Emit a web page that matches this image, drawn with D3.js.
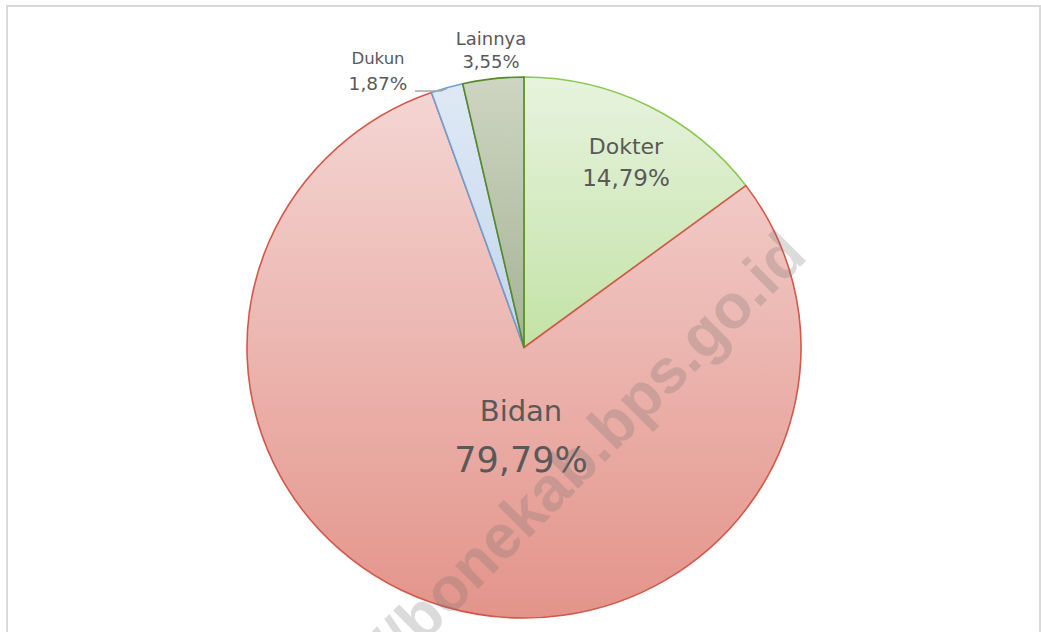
<!DOCTYPE html>
<html><head><meta charset="utf-8">
<script src="https://cdn.jsdelivr.net/npm/d3@7"></script>
<style>html,body{margin:0;padding:0;background:#fff;overflow:hidden}</style>
</head><body>
<svg id="chart" width="1041" height="632"></svg>
<script>
// Data
const categories = ["Dokter", "Bidan", "Dukun", "Lainnya"];
const values = [14.79, 79.79, 1.87, 3.55];
const valueLabels = ["14,79%", "79,79%", "1,87%", "3,55%"];

// Styling
const gradTop  = {Dokter:"#e7f3de", Bidan:"#f4d5d3", Dukun:"#dfe9f5", Lainnya:"#ced5c2"};
const gradBot  = {Dokter:"#c3e2a6", Bidan:"#e3948a", Dukun:"#c2d5ec", Lainnya:"#a5b394"};
const strokes  = {Dokter:"#8cc751", Bidan:"#d4584a", Dukun:"#6d9fd4", Lainnya:"#558a26"};
// label layout
const labelLayout = {
  Dokter:  {x:626, y:154, gap:32, s1:22, s2:23},
  Bidan:   {x:521, y:421, gap:51, s1:29, s2:35},
  Dukun:   {x:378, y:64,  gap:26, s1:16.5, s2:18.5},
  Lainnya: {x:491, y:45,  gap:23, s1:18, s2:18}
};

const W = 1041, H = 632;
const cx = 524, cy = 347.5, rx = 277, ry = 270.5;
const svg = d3.select("#chart");

svg.append("rect").attr("x", 7).attr("y", 6).attr("width", 1033).attr("height", 700)
  .attr("fill", "#fff").attr("stroke", "#d9d9d9").attr("stroke-width", 2);

const defs = svg.append("defs");
categories.forEach((c, i) => {
  const g = defs.append("linearGradient").attr("id", "g" + i)
    .attr("x1", 0).attr("y1", 0).attr("x2", 0).attr("y2", 1);
  g.append("stop").attr("offset", "0%").attr("stop-color", gradTop[c]);
  g.append("stop").attr("offset", "100%").attr("stop-color", gradBot[c]);
});

const pie = d3.pie().sort(null).value(d => d.v);
const data = categories.map((c, i) => ({c, v: values[i], lab: valueLabels[i], i}));
const arcs = pie(data);
const arc = d3.arc().innerRadius(0).outerRadius(rx);

const pg = svg.append("g").attr("transform", `translate(${cx},${cy}) scale(1,${ry/rx})`);
pg.selectAll("path").data(arcs).enter().append("path")
  .attr("d", arc)
  .attr("fill", d => `url(#g${d.data.i})`)
  .attr("stroke", d => strokes[d.data.c])
  .attr("stroke-width", 1.6)
  .attr("stroke-linejoin", "round")
  .attr("vector-effect", "non-scaling-stroke");

// leader line for Dukun
const dk = arcs.find(d => d.data.c === "Dukun");
const ma = (dk.startAngle + dk.endAngle) / 2;
const ex = cx + rx * Math.sin(ma), ey = cy - ry * Math.cos(ma);
svg.append("path")
  .attr("d", `M415,91 L${ex - 6},91 L${ex},${ey + 1}`)
  .attr("fill", "none").attr("stroke", "#a6a6a6").attr("stroke-width", 1.3);

// labels
const font = "'DejaVu Sans', sans-serif";
arcs.forEach(d => {
  const L = labelLayout[d.data.c];
  const t = svg.append("text").attr("text-anchor", "middle")
    .attr("font-family", font).attr("fill", "#595959");
  t.append("tspan").attr("x", L.x).attr("y", L.y).attr("font-size", L.s1).text(d.data.c);
  t.append("tspan").attr("x", L.x).attr("y", L.y + L.gap).attr("font-size", L.s2).text(d.data.lab);
});

// watermark
svg.append("text")
  .attr("transform", "translate(809,258) rotate(-45)")
  .attr("text-anchor", "end")
  .attr("font-family", "'Liberation Sans', Arial, sans-serif")
  .attr("font-weight", "bold").attr("font-size", 62)
  .attr("fill", "rgb(110,110,110)").attr("fill-opacity", 0.25)
  .text("https://bonekab.bps.go.id");
</script>
</body></html>
